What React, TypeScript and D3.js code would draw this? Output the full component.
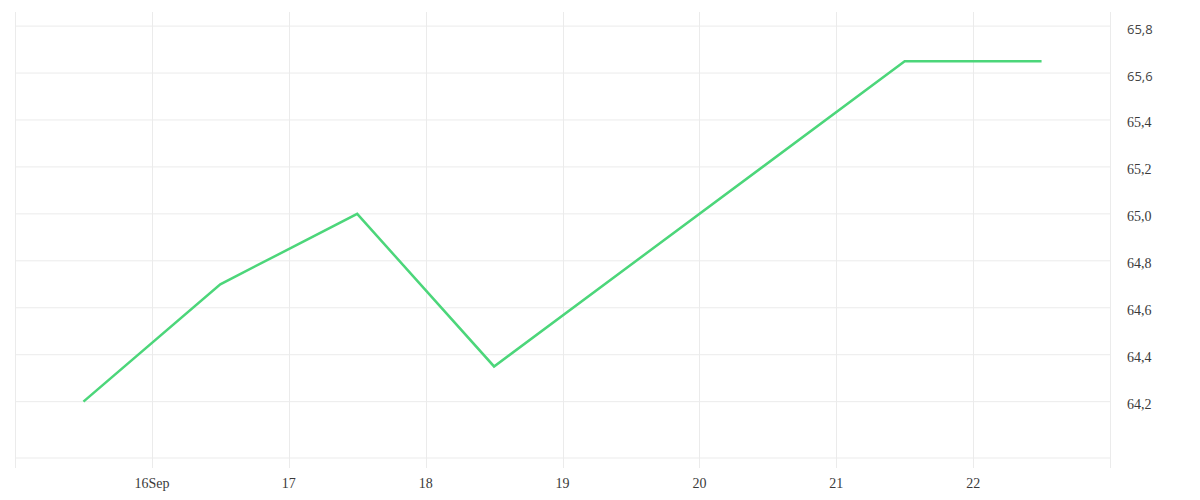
import * as d3 from 'd3';
import * as React from 'react';

const width = 1200;
const height = 500;
const margin = { top: 12, right: 90, bottom: 42, left: 15 };

// daily readings, taken at noon
const days = ['2024-09-15', '2024-09-16', '2024-09-17', '2024-09-18', '2024-09-21', '2024-09-22'];
const values = [64.2, 64.7, 65.0, 64.35, 65.65, 65.65];

const yTicks = [64.2, 64.4, 64.6, 64.8, 65.0, 65.2, 65.4, 65.6, 65.8];
const sansTicks = [65.6, 65.8];

type Datum = { date: Date; value: number };

const data: Datum[] = days.map((d, i) => ({
  date: new Date(d + 'T12:00:00'),
  value: values[i],
}));

const x = d3
  .scaleTime()
  .domain([new Date('2024-09-15T00:00:00'), new Date('2024-09-23T00:00:00')])
  .range([margin.left, width - margin.right]);

const y = d3
  .scaleLinear()
  .domain([63.96, 65.86])
  .range([height - margin.bottom, margin.top]);

const line = d3
  .line<Datum>()
  .x(d => x(d.date))
  .y(d => y(d.value));

const fmtNum = (v: number) => v.toFixed(1).replace('.', ',');
const fmtDay = (d: Date) => (d.getDate() === 16 ? '16Sep' : d3.timeFormat('%-d')(d));

export default () => {
  const dayTicks = x.ticks(d3.timeDay.every(1) as d3.TimeInterval);
  const labelTicks = dayTicks.filter(d => d.getDate() >= 16 && d.getDate() <= 22);
  const x0 = margin.left;
  const x1 = width - margin.right;
  const yBottom = height - margin.bottom;
  const grid = '#ebebeb';

  return (
    <div style={{ position: 'absolute', left: 0, top: 0 }}>
      <svg width={width} height={height} style={{ display: 'block', background: '#fff' }}>
        <g>
          {yTicks.map(t => (
            <line key={t} x1={x0} x2={x1} y1={y(t)} y2={y(t)} stroke={grid} strokeWidth={1} />
          ))}
          <line x1={x0} x2={x1} y1={yBottom} y2={yBottom} stroke={grid} strokeWidth={1} />
          {dayTicks.map(d => (
            <line
              key={+d}
              x1={Math.round(x(d)) + 0.5}
              x2={Math.round(x(d)) + 0.5}
              y1={margin.top}
              y2={yBottom + 10}
              stroke={grid}
              strokeWidth={1}
            />
          ))}
        </g>
        <path
          d={line(data) || ''}
          fill="none"
          stroke="#4cd67a"
          strokeWidth={2.5}
          strokeLinejoin="miter"
        />
        <g fontSize={14} fill="#3a3a3a">
          {labelTicks.map(d => (
            <text
              key={+d}
              x={x(d)}
              y={488}
              textAnchor="middle"
              fontFamily="'Liberation Serif', serif"
            >
              {fmtDay(d)}
            </text>
          ))}
          {yTicks.map(t => {
            const sans = sansTicks.includes(t);
            return (
              <text
                key={t}
                x={1127}
                y={y(t) + 7.5}
                fontFamily={sans ? "'Open Sans', sans-serif" : "'Liberation Serif', serif"}
                fontSize={sans ? 13 : 14}
                fill={sans ? '#444' : '#3a3a3a'}
              >
                {fmtNum(t)}
              </text>
            );
          })}
        </g>
      </svg>
    </div>
  );
};
